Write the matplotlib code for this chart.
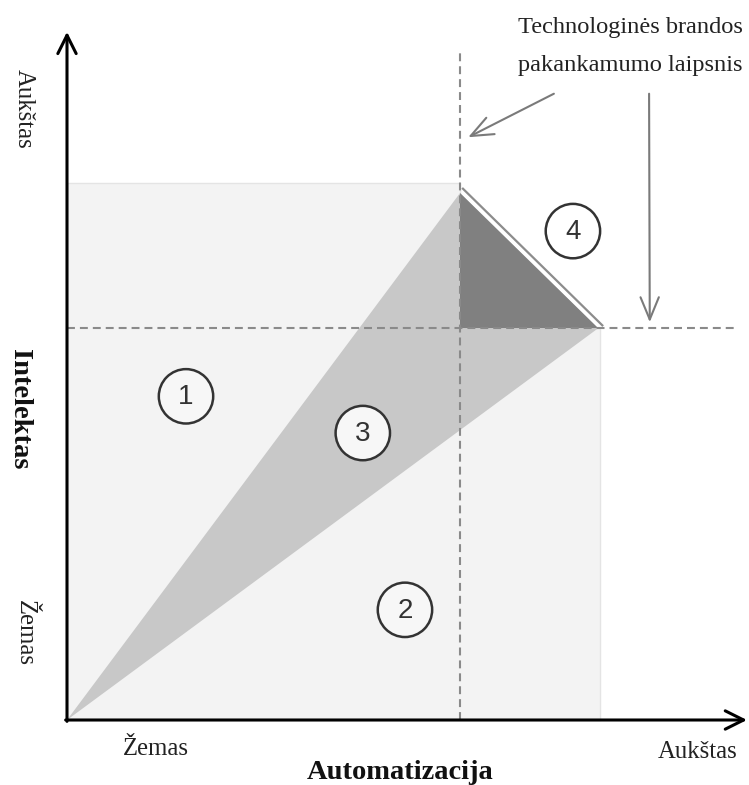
import numpy as np
import matplotlib.pyplot as plt
from matplotlib.patches import Polygon, Circle

# diagram units: origin at the axis corner, 1 unit ~ 68 px
axis_end_x = 10.0
axis_end_y = 10.12

# light background area (L-shape, top right quadrant left white)
light_x = [0, 7.84, 7.84, 5.78, 5.78, 0]
light_y = [0, 0, 5.76, 5.76, 7.90, 7.90]

# zone 3 cone and zone 4 triangle
cone_x = [0, 5.78, 7.81]
cone_y = [0, 7.75, 5.76]
top_x = [5.78, 5.78, 7.81]
top_y = [7.75, 5.76, 5.76]

# maturity thresholds
threshold_x = 5.78
threshold_y = 5.76
vline_top = 9.85
hline_end = 9.82

# zone markers
zone_labels = ['1', '2', '3', '4']
zone_x = [1.75, 4.97, 4.35, 7.44]
zone_y = [4.76, 1.62, 4.22, 7.19]
zone_fill = ['#f7f7f7', '#f7f7f7', '#f7f7f7', 'white']

# pointer arrows from the note
pointer_start = [(7.16, 9.21), (8.56, 9.21)]
pointer_end = [(5.90, 8.57), (8.57, 5.85)]

note_lines = ['Technologinės brandos', 'pakankamumo laipsnis']
note_base_y = [10.10, 9.54]

SERIF = 'Liberation Serif'
SANS = 'Liberation Sans'

fig = plt.figure(figsize=(7.49, 7.85), dpi=100)
ax = fig.add_axes([0, 0, 1, 1])
ax.set_xlim(-67 / 68, (749 - 67) / 68)
ax.set_ylim(-(785 - 720) / 68, 720 / 68)
ax.axis('off')

# background area
ax.add_patch(Polygon(np.column_stack([light_x, light_y]), closed=True,
                     facecolor='#f3f3f3', edgecolor='#e4e4e4', lw=1.0, zorder=1))
# cone (zone 3)
ax.add_patch(Polygon(np.column_stack([cone_x, cone_y]), closed=True,
                     facecolor='#c8c8c8', edgecolor='none', zorder=2))
# dark triangle (zone 4 gap)
ax.add_patch(Polygon(np.column_stack([top_x, top_y]), closed=True,
                     facecolor='#808080', edgecolor='none', zorder=3))

# thin line parallel to the hypotenuse, with a white gap
p0 = np.array([top_x[0], top_y[0]])
p1 = np.array([top_x[2], top_y[2]])
d = (p1 - p0) / np.linalg.norm(p1 - p0)
n = np.array([-d[1], d[0]])
if n[0] < 0:
    n = -n
off = 0.075
ext = 0.03
q0 = p0 + n * off - d * ext
q1 = p1 + n * off + d * ext
ax.plot([q0[0], q1[0]], [q0[1], q1[1]], color='#8c8c8c', lw=1.6,
        solid_capstyle='butt', zorder=4)

# dashed threshold lines
dash = (0, (3.8, 2.4))
ax.plot([threshold_x, threshold_x], [0, vline_top], color='#8a8a8a', lw=1.5,
        linestyle=dash, zorder=5)
ax.plot([0, hline_end], [threshold_y, threshold_y], color='#8a8a8a', lw=1.5,
        linestyle=dash, zorder=5)

# axes with open arrow heads
axis_arrow = dict(arrowstyle='->, head_length=0.6, head_width=0.3', color='black',
                  lw=2.2, mutation_scale=22, shrinkA=0, shrinkB=0)
ax.annotate('', xy=(0, axis_end_y), xytext=(0, -0.02), arrowprops=axis_arrow, zorder=6)
ax.annotate('', xy=(axis_end_x, 0), xytext=(-0.02, 0), arrowprops=axis_arrow, zorder=6)

# pointer arrows
for s, e in zip(pointer_start, pointer_end):
    ax.annotate('', xy=e, xytext=s,
                arrowprops=dict(arrowstyle='->, head_length=0.8, head_width=0.33',
                                color='#7a7a7a', lw=1.5, mutation_scale=20,
                                shrinkA=0, shrinkB=0), zorder=6)

# zone circles
for lab, x, y, fc in zip(zone_labels, zone_x, zone_y, zone_fill):
    ax.add_patch(Circle((x, y), 0.40, facecolor=fc, edgecolor='#333333',
                        lw=1.8, zorder=7))
    ax.text(x, y - 0.01, lab, ha='center', va='center', fontsize=20,
            family=SANS, color='#333333', zorder=8)

# note text, kept just inside the right edge
for line, by in zip(note_lines, note_base_y):
    ax.text(6.63, by, line, ha='left', va='baseline', fontsize=17.6,
            family=SERIF, color='#222222')

# axis captions
ax.text(-0.64, 8.99, 'Aukštas', rotation=-90, ha='center', va='center',
        fontsize=17.8, family=SERIF, color='#222222')
ax.text(-0.70, 4.57, 'Intelektas', rotation=-90, ha='center', va='center',
        fontsize=20.5, family=SERIF, fontweight='bold', color='#111111')
ax.text(-0.62, 1.28, 'Žemas', rotation=-90, ha='center', va='center',
        fontsize=17.8, family=SERIF, color='#222222')
ax.text(1.30, -0.42, 'Žemas', ha='center', va='center',
        fontsize=17.8, family=SERIF, color='#222222')
ax.text(9.27, -0.47, 'Aukštas', ha='center', va='center',
        fontsize=17.8, family=SERIF, color='#222222')
ax.text(4.90, -0.77, 'Automatizacija', ha='center', va='center',
        fontsize=20.5, family=SERIF, fontweight='bold', color='#111111')

fig.savefig('out.png', dpi=100, facecolor='white')
